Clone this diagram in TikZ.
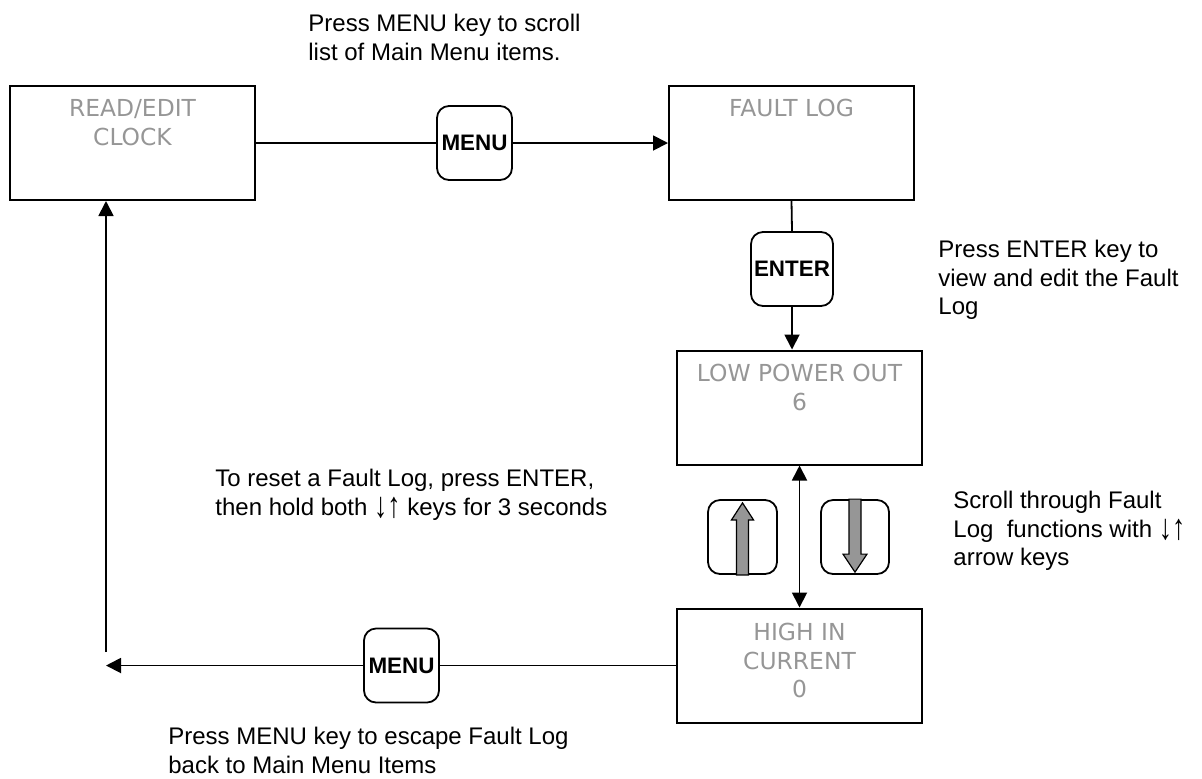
\documentclass[tikz,border=0pt]{standalone}
\usepackage{fontspec}
\usepackage{graphicx}
\setmainfont{Liberation Sans}
\newfontfamily\verdanafont{DejaVu Sans}
\usepackage{tikz}
\usetikzlibrary{arrows.meta,positioning,calc}
\definecolor{LabelGray}{RGB}{150,150,150}
\definecolor{KeyGray}{RGB}{150,150,150}
\newcommand{\updown}{\raisebox{-1pt}{\scalebox{1.1}[1.5]{↓↑}}}

\tikzset{
  menubox/.style={draw, line width=1pt, minimum width=122.5pt, minimum height=57pt, inner sep=0pt},
  boxtext/.style={text=LabelGray, font=\verdanafont\fontsize{11.7}{14.4}\selectfont, anchor=north, inner sep=0pt},
  keybox/.style={draw, line width=0.9pt, rounded corners=6pt, minimum height=37pt, inner sep=0pt,
    fill=white, font=\bfseries\fontsize{11.2}{13}\selectfont},
  keyarrow/.style={fill=KeyGray, draw=black, line width=0.6pt},
  note/.style={anchor=north west, align=left, inner sep=0pt, font=\fontsize{12}{14.25}\selectfont},
  plain/.style={line width=0.9pt},
}

\begin{document}
\begin{tikzpicture}[x=0.5pt, y=-0.5pt, every node/.style={align=center},
    >={Triangle[length=7.5pt,width=7.5pt]}]
  \useasboundingbox (0,0) rectangle (1202,778);

  % menu screens
  \node[menubox] (clock) at (132.5,143) {};
  \node[boxtext] (clocktext) at ($(clock.north)+(0,14)$) {READ/EDIT\\CLOCK};
  \node[menubox] (faultlog) at (791.5,143) {};
  \node[boxtext] (faulttext) at ($(faultlog.north)+(0,14)$) {FAULT LOG};
  \node[menubox] (lowpower) at (799.5,407.5) {};
  \node[boxtext] (lowtext) at ($(lowpower.north)+(0,14)$) {LOW POWER OUT\\6};
  \node[menubox] (highin) at (799.5,665.5) {};
  \node[boxtext] (hightext) at ($(highin.north)+(0,15)$) {HIGH IN\\CURRENT\\0};

  % keys
  \node[keybox, minimum width=37.5pt] (menutop) at (474.5,143) {MENU};
  \node[keybox, minimum width=41pt] (enterkey) at (792,269) {ENTER};
  \node[keybox, minimum width=34.5pt] (upkey) at (742.5,537) {};
  \node[keybox, minimum width=34pt] (downkey) at (855,537) {};
  \node[keybox, minimum width=37.5pt] (menubot) at (401.5,665.5) {MENU};

  \draw[keyarrow] ($(upkey.south)+(-6,0)$) -- ++(0,-55) -- ++(-5,0) -- ++(11,-17)
    -- ++(11,17) -- ++(-5,0) -- ++(0,55) -- cycle;
  \draw[keyarrow] ($(downkey.north)+(-6,0)$) -- ++(0,55) -- ++(-6,0) -- ++(12,18)
    -- ++(12,-18) -- ++(-6,0) -- ++(0,-55) -- cycle;

  % connectors
  \draw[plain] (clock.east) -- (menutop.west);
  \draw[plain,->] (menutop.east) -- (faultlog.west);
  \draw[plain] (faultlog.south) -- (enterkey.north);
  \draw[plain,->] (enterkey.south) -- (enterkey.south |- lowpower.north);
  \draw[plain,<->] (lowpower.south) -- (highin.north);
  \coordinate (loopend) at (106,665.5);
  \coordinate (loopstart) at (106,652);
  \draw[plain] (highin.west) -- (menubot.east);
  \draw[plain,->] (menubot.west) -- (loopend);
  \draw[plain,->] (loopstart) -- (loopstart |- clock.south);

  % notes
  \node[note] (scrollnote) at (308,14) {Press MENU key to scroll\\list of Main Menu items.};
  \node[note] (enternote) at (938,240) {Press ENTER key to\\view and edit the Fault\\Log};
  \node[note] (resetnote) at (215,469) {To reset a Fault Log, press ENTER,\\then hold both \updown{} keys for 3 seconds};
  \node[note] (arrownote) at (953,491) {Scroll through Fault\\Log\ \ functions with \updown\\arrow keys};
  \node[note] (escapenote) at (168,727) {Press MENU key to escape Fault Log\\back to Main Menu Items};
\end{tikzpicture}
\end{document}
